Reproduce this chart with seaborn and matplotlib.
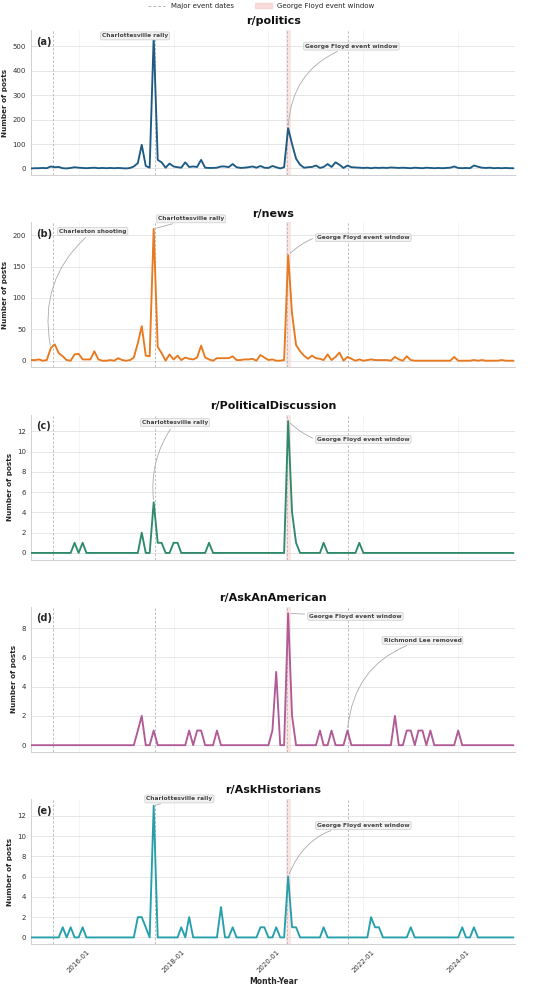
import matplotlib
matplotlib.use('Agg')
import matplotlib.pyplot as plt
import matplotlib.dates as mdates
import matplotlib.lines as mlines
import matplotlib.patches as mpatches
import pandas as pd
import seaborn as sns

# Monthly post counts, 2015-01 .. 2025-03 (one row per year)
months = pd.date_range('2015-01-01', '2025-03-01', freq='MS')

politics = [0, 1, 1, 2, 1, 8, 5, 6, 1, 0, 2, 5,
            3, 2, 1, 2, 3, 1, 2, 1, 2, 1, 2, 1,
            0, 2, 8, 22, 97, 10, 3, 540, 35, 25, 3, 20,
            8, 5, 3, 25, 6, 8, 6, 35, 3, 2, 2, 3,
            8, 8, 5, 18, 5, 2, 3, 5, 8, 3, 10, 3,
            2, 10, 5, 0, 5, 165, 100, 40, 15, 3, 5, 6,
            12, 2, 6, 18, 6, 25, 15, 2, 12, 5, 4, 3,
            2, 3, 1, 3, 2, 3, 2, 4, 3, 2, 3, 2,
            1, 3, 2, 1, 3, 2, 1, 2, 1, 2, 3, 8,
            2, 1, 2, 1, 12, 7, 3, 2, 3, 1, 2, 1,
            2, 1, 1]

news = [1, 1, 2, 0, 1, 20, 26, 12, 7, 1, 0, 10,
        11, 2, 2, 2, 15, 2, 0, 0, 1, 0, 4, 1,
        0, 1, 5, 28, 55, 8, 7, 210, 22, 12, 0, 10,
        2, 8, 1, 5, 3, 2, 5, 24, 5, 2, 0, 4,
        4, 4, 4, 7, 1, 1, 2, 2, 3, 0, 9, 5,
        1, 2, 0, 0, 1, 168, 75, 25, 15, 8, 3, 8,
        4, 3, 1, 10, 1, 6, 13, 0, 6, 3, 0, 2,
        0, 1, 2, 1, 1, 1, 1, 0, 6, 2, 0, 7,
        1, 0, 0, 0, 0, 0, 0, 0, 0, 0, 0, 6,
        0, 0, 0, 0, 1, 0, 1, 0, 0, 0, 0, 1,
        0, 0, 0]

political_discussion = [0, 0, 0, 0, 0, 0, 0, 0, 0, 0, 0, 1,
                        0, 1, 0, 0, 0, 0, 0, 0, 0, 0, 0, 0,
                        0, 0, 0, 0, 2, 0, 0, 5, 1, 1, 0, 0,
                        1, 1, 0, 0, 0, 0, 0, 0, 0, 1, 0, 0,
                        0, 0, 0, 0, 0, 0, 0, 0, 0, 0, 0, 0,
                        0, 0, 0, 0, 0, 13, 4, 1, 0, 0, 0, 0,
                        0, 0, 1, 0, 0, 0, 0, 0, 0, 0, 0, 1,
                        0, 0, 0, 0, 0, 0, 0, 0, 0, 0, 0, 0,
                        0, 0, 0, 0, 0, 0, 0, 0, 0, 0, 0, 0,
                        0, 0, 0, 0, 0, 0, 0, 0, 0, 0, 0, 0,
                        0, 0, 0]

ask_an_american = [0, 0, 0, 0, 0, 0, 0, 0, 0, 0, 0, 0,
                   0, 0, 0, 0, 0, 0, 0, 0, 0, 0, 0, 0,
                   0, 0, 0, 1, 2, 0, 0, 1, 0, 0, 0, 0,
                   0, 0, 0, 0, 1, 0, 1, 1, 0, 0, 0, 1,
                   0, 0, 0, 0, 0, 0, 0, 0, 0, 0, 0, 0,
                   0, 1, 5, 0, 0, 9, 2, 0, 0, 0, 0, 0,
                   0, 1, 0, 0, 1, 0, 0, 0, 1, 0, 0, 0,
                   0, 0, 0, 0, 0, 0, 0, 0, 2, 0, 0, 1,
                   1, 0, 1, 1, 0, 1, 0, 0, 0, 0, 0, 0,
                   1, 0, 0, 0, 0, 0, 0, 0, 0, 0, 0, 0,
                   0, 0, 0]

ask_historians = [0, 0, 0, 0, 0, 0, 0, 0, 1, 0, 1, 0,
                  0, 1, 0, 0, 0, 0, 0, 0, 0, 0, 0, 0,
                  0, 0, 0, 2, 2, 1, 0, 13, 0, 0, 0, 0,
                  0, 0, 1, 0, 2, 0, 0, 0, 0, 0, 0, 0,
                  3, 0, 0, 1, 0, 0, 0, 0, 0, 0, 1, 1,
                  0, 0, 1, 0, 0, 6, 1, 1, 0, 0, 0, 0,
                  0, 0, 1, 0, 0, 0, 0, 0, 0, 0, 0, 0,
                  0, 0, 2, 1, 1, 0, 0, 0, 0, 0, 0, 0,
                  1, 0, 0, 0, 0, 0, 0, 0, 0, 0, 0, 0,
                  0, 1, 0, 0, 1, 0, 0, 0, 0, 0, 0, 0,
                  0, 0, 0]

subreddits = ['r/politics', 'r/news', 'r/PoliticalDiscussion', 'r/AskAnAmerican', 'r/AskHistorians']
panel_tags = ['(a)', '(b)', '(c)', '(d)', '(e)']
colors = ['#1d5b84', '#e8791e', '#2f8a6b', '#b05a96', '#25a0ab']

# Event dates (vertical dashed lines) and George Floyd window
event_dates = ['2015-06-17', '2017-08-12', '2020-05-25', '2021-09-08']
gf_window = ('2020-05-13', '2020-06-22')

# Annotations per panel: (label, point date, point value, text date, text y, curvature)
notes = [
    [('Charlottesville rally', '2017-08-01', 540, '2017-03-10', 543, 0.0),
     ('George Floyd event window', '2020-06-01', 165, '2021-10-01', 501, 0.35)],
    [('Charleston shooting', '2015-06-01', 20, '2016-04-18', 206, 0.3),
     ('Charlottesville rally', '2017-08-01', 210, '2018-05-15', 226, 0.0),
     ('George Floyd event window', '2020-06-01', 168, '2022-01-01', 196, 0.3)],
    [('Charlottesville rally', '2017-08-01', 5, '2018-01-12', 12.85, 0.2),
     ('George Floyd event window', '2020-06-01', 13, '2022-01-01', 11.2, -0.3)],
    [('George Floyd event window', '2020-06-01', 9, '2021-11-01', 8.8, 0.0),
     ('Richmond Lee removed', '2021-09-01', 1, '2023-04-01', 7.16, 0.35)],
    [('Charlottesville rally', '2017-08-01', 13, '2018-02-15', 13.66, 0.0),
     ('George Floyd event window', '2020-06-01', 6, '2022-01-01', 11.05, 0.35)],
]

df = pd.DataFrame({'month': months,
                   'r/politics': politics,
                   'r/news': news,
                   'r/PoliticalDiscussion': political_discussion,
                   'r/AskAnAmerican': ask_an_american,
                   'r/AskHistorians': ask_historians})

sns.set_style('whitegrid')
plt.rcParams['font.family'] = ['DejaVu Sans']

fig, axes = plt.subplots(5, 1, figsize=(5.5, 9.85), dpi=100, sharex=True)
fig.subplots_adjust(left=0.056, right=0.937, top=0.9695, bottom=0.0416, hspace=0.326)

for k, ax in enumerate(axes):
    name = subreddits[k]
    ax.axvspan(pd.Timestamp(gf_window[0]), pd.Timestamp(gf_window[1]),
               color='#f6c6c6', alpha=0.45, lw=0, zorder=1)
    for d in event_dates:
        ax.axvline(pd.Timestamp(d), color='#b5b5b5', ls=(0, (3, 2)), lw=0.6, zorder=1)
    sns.lineplot(x='month', y=name, data=df, ax=ax, color=colors[k], linewidth=1.35, zorder=3)

    ax.set_title(name, fontsize=8, fontweight='bold', pad=4, color='#111111')
    ax.set_ylabel('Number of posts', fontsize=5.2, fontweight='bold', labelpad=3)
    ax.set_xlabel('')
    ax.text(0.012, 0.92, panel_tags[k], transform=ax.transAxes, fontsize=7,
            fontweight='bold', va='center', ha='left')

    ax.grid(axis='y', color='#e6e6e6', lw=0.7)
    ax.grid(axis='x', color='#f0f0f0', lw=0.5)
    for s in ['top', 'right']:
        ax.spines[s].set_visible(False)
    for s in ['left', 'bottom']:
        ax.spines[s].set_color('#d0d0d0')
        ax.spines[s].set_linewidth(0.7)
    ax.tick_params(axis='both', labelsize=5, length=2, width=0.5,
                   color='#888888', labelcolor='#333333', pad=1.5)

    for label, px, py, tx, ty, rad in notes[k]:
        ax.annotate(label, xy=(pd.Timestamp(px), py), xytext=(pd.Timestamp(tx), ty),
                    ha='center', va='center', fontsize=4.2, fontweight='bold', color='#444444',
                    bbox=dict(boxstyle='round,pad=0.25', fc='#f2f2f2', ec='#cccccc', lw=0.5),
                    arrowprops=dict(arrowstyle='-', color='#aaaaaa', lw=0.6,
                                    connectionstyle='arc3,rad=%s' % rad),
                    zorder=5, annotation_clip=False)

axes[-1].set_xlim(months[0] - pd.Timedelta(days=3), months[-1] + pd.Timedelta(days=15))
axes[-1].xaxis.set_major_locator(mdates.YearLocator(2, month=1))
axes[-1].xaxis.set_major_formatter(mdates.DateFormatter('%Y-%m'))
plt.setp(axes[-1].get_xticklabels(), rotation=45)
axes[-1].set_xlabel('Month-Year', fontsize=5.5, fontweight='bold', labelpad=2)

# Legend
event_line = mlines.Line2D([], [], color='#b5b5b5', ls=(0, (3, 2)), lw=0.7, label='Major event dates')
gf_patch = mpatches.Patch(color='#f6c6c6', alpha=0.6, label='George Floyd event window')
fig.legend(handles=[event_line, gf_patch], loc='upper center', bbox_to_anchor=(0.475, 1.003),
           ncol=2, frameon=False, fontsize=5, handlelength=2.5, columnspacing=3)

fig.savefig('out.png', dpi=100)
